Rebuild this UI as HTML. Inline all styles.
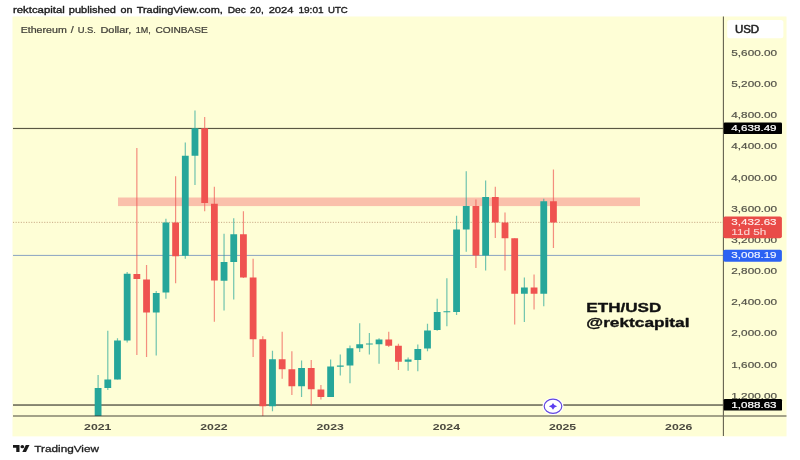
<!DOCTYPE html>
<html lang="en"><head><meta charset="utf-8"><title>ETH/USD chart</title>
<style>html,body{margin:0;padding:0;background:#fff;}body{width:800px;height:460px;overflow:hidden;}svg{display:block;}text{font-family:"Liberation Sans",Arial,sans-serif;}</style></head><body>
<svg width="800" height="460" viewBox="0 0 800 460">
<rect x="0" y="0" width="800" height="460" fill="#ffffff"/>
<rect x="12.5" y="16.5" width="774" height="419.9" fill="#fefed6"/>
<text y="13" font-size="9.2" font-weight="normal" fill="#1c1c1c" stroke="#1c1c1c" stroke-width="0.36" stroke-linejoin="round"><tspan x="13.0" textLength="51.75" lengthAdjust="spacingAndGlyphs">rektcapital</tspan> <tspan x="68.8" textLength="47.10" lengthAdjust="spacingAndGlyphs">published</tspan> <tspan x="120.5" textLength="12.00" lengthAdjust="spacingAndGlyphs">on</tspan> <tspan x="136.7" textLength="86.10" lengthAdjust="spacingAndGlyphs">TradingView.com,</tspan> <tspan x="227.7" textLength="18.20" lengthAdjust="spacingAndGlyphs">Dec</tspan> <tspan x="250.1" textLength="13.65" lengthAdjust="spacingAndGlyphs">20,</tspan> <tspan x="268.65" textLength="24.85" lengthAdjust="spacingAndGlyphs">2024</tspan> <tspan x="298.4" textLength="25.20" lengthAdjust="spacingAndGlyphs">19:01</tspan> <tspan x="328" textLength="19.75" lengthAdjust="spacingAndGlyphs">UTC</tspan></text>
<text y="33" font-size="8.5" font-weight="normal" fill="#403f38" stroke="#403f38" stroke-width="0.22" stroke-linejoin="round"><tspan x="20.7" textLength="46.05" lengthAdjust="spacingAndGlyphs">Ethereum</tspan> <tspan x="70.8" textLength="3.00" lengthAdjust="spacingAndGlyphs">/</tspan> <tspan x="77.7" textLength="18.30" lengthAdjust="spacingAndGlyphs">U.S.</tspan> <tspan x="100.5" textLength="30.90" lengthAdjust="spacingAndGlyphs">Dollar,</tspan> <tspan x="135.8" textLength="15.00" lengthAdjust="spacingAndGlyphs">1M,</tspan> <tspan x="155.45" textLength="52.35" lengthAdjust="spacingAndGlyphs">COINBASE</tspan></text>
<rect x="118" y="197.5" width="522" height="8.6" fill="#fac0ab"/>
<rect x="13" y="127.9" width="711" height="1.15" fill="#5a5843"/>
<rect x="13" y="404.45" width="711" height="1.15" fill="#35342b"/>
<rect x="13" y="254.9" width="711" height="1" fill="#8aa3c2"/>
<line x1="13" y1="222.35" x2="723" y2="222.35" stroke="#c29f7c" stroke-width="0.9" stroke-dasharray="1.1 1.5"/>
<rect x="97.50" y="375" width="1.2" height="41.00" fill="#26a69a" opacity="0.66"/>
<rect x="94.70" y="388" width="6.8" height="28.00" fill="#26a69a"/>
<rect x="107.19" y="330.75" width="1.2" height="59.25" fill="#26a69a" opacity="0.66"/>
<rect x="104.39" y="379.5" width="6.8" height="8.50" fill="#26a69a"/>
<rect x="116.88" y="338.25" width="1.2" height="41.25" fill="#26a69a" opacity="0.66"/>
<rect x="114.08" y="340.5" width="6.8" height="39.00" fill="#26a69a"/>
<rect x="126.56" y="272" width="1.2" height="70.50" fill="#26a69a" opacity="0.66"/>
<rect x="123.76" y="273.75" width="6.8" height="66.75" fill="#26a69a"/>
<rect x="136.25" y="148" width="1.2" height="207.00" fill="#ef5350" opacity="0.66"/>
<rect x="133.45" y="274" width="6.8" height="5.00" fill="#ef5350"/>
<rect x="145.94" y="265" width="1.2" height="92.00" fill="#ef5350" opacity="0.66"/>
<rect x="143.14" y="279.5" width="6.8" height="33.00" fill="#ef5350"/>
<rect x="155.63" y="291" width="1.2" height="64.50" fill="#26a69a" opacity="0.66"/>
<rect x="152.83" y="293" width="6.8" height="19.50" fill="#26a69a"/>
<rect x="165.32" y="218.75" width="1.2" height="80.00" fill="#26a69a" opacity="0.66"/>
<rect x="162.52" y="222.5" width="6.8" height="70.00" fill="#26a69a"/>
<rect x="175.00" y="176.25" width="1.2" height="107.00" fill="#ef5350" opacity="0.66"/>
<rect x="172.20" y="222.5" width="6.8" height="33.75" fill="#ef5350"/>
<rect x="184.69" y="142.5" width="1.2" height="116.25" fill="#26a69a" opacity="0.66"/>
<rect x="181.89" y="155.75" width="6.8" height="100.00" fill="#26a69a"/>
<rect x="194.38" y="110.5" width="1.2" height="74.50" fill="#26a69a" opacity="0.66"/>
<rect x="191.58" y="128.25" width="6.8" height="27.50" fill="#26a69a"/>
<rect x="204.07" y="117" width="1.2" height="94.25" fill="#ef5350" opacity="0.66"/>
<rect x="201.27" y="128.25" width="6.8" height="74.75" fill="#ef5350"/>
<rect x="213.76" y="186.75" width="1.2" height="135.00" fill="#ef5350" opacity="0.66"/>
<rect x="210.96" y="203.75" width="6.8" height="76.75" fill="#ef5350"/>
<rect x="223.44" y="233.75" width="1.2" height="76.75" fill="#26a69a" opacity="0.66"/>
<rect x="220.64" y="262" width="6.8" height="18.75" fill="#26a69a"/>
<rect x="233.13" y="218.25" width="1.2" height="81.25" fill="#26a69a" opacity="0.66"/>
<rect x="230.33" y="234.25" width="6.8" height="27.75" fill="#26a69a"/>
<rect x="242.82" y="211.25" width="1.2" height="66.75" fill="#ef5350" opacity="0.66"/>
<rect x="240.02" y="234.25" width="6.8" height="43.25" fill="#ef5350"/>
<rect x="252.51" y="258.75" width="1.2" height="98.25" fill="#ef5350" opacity="0.66"/>
<rect x="249.71" y="277.5" width="6.8" height="61.75" fill="#ef5350"/>
<rect x="262.20" y="336.25" width="1.2" height="79.75" fill="#ef5350" opacity="0.66"/>
<rect x="259.40" y="339.25" width="6.8" height="67.00" fill="#ef5350"/>
<rect x="271.88" y="350.75" width="1.2" height="60.50" fill="#26a69a" opacity="0.66"/>
<rect x="269.08" y="359.25" width="6.8" height="47.00" fill="#26a69a"/>
<rect x="281.57" y="331.75" width="1.2" height="47.00" fill="#ef5350" opacity="0.66"/>
<rect x="278.77" y="359.25" width="6.8" height="10.00" fill="#ef5350"/>
<rect x="291.26" y="351.25" width="1.2" height="43.75" fill="#ef5350" opacity="0.66"/>
<rect x="288.46" y="369.25" width="6.8" height="17.00" fill="#ef5350"/>
<rect x="300.95" y="360.5" width="1.2" height="36.50" fill="#26a69a" opacity="0.66"/>
<rect x="298.15" y="368" width="6.8" height="18.25" fill="#26a69a"/>
<rect x="310.64" y="360" width="1.2" height="45.50" fill="#ef5350" opacity="0.66"/>
<rect x="307.84" y="368" width="6.8" height="21.25" fill="#ef5350"/>
<rect x="320.32" y="385" width="1.2" height="14.50" fill="#ef5350" opacity="0.66"/>
<rect x="317.52" y="389.5" width="6.8" height="7.50" fill="#ef5350"/>
<rect x="330.01" y="359.5" width="1.2" height="37.50" fill="#26a69a" opacity="0.66"/>
<rect x="327.21" y="366.5" width="6.8" height="30.50" fill="#26a69a"/>
<rect x="339.70" y="354.5" width="1.2" height="21.00" fill="#26a69a" opacity="0.66"/>
<rect x="336.90" y="365.5" width="6.8" height="1.25" fill="#26a69a"/>
<rect x="349.39" y="345.5" width="1.2" height="37.75" fill="#26a69a" opacity="0.66"/>
<rect x="346.59" y="348.25" width="6.8" height="17.25" fill="#26a69a"/>
<rect x="359.08" y="323.25" width="1.2" height="28.75" fill="#26a69a" opacity="0.66"/>
<rect x="356.28" y="344.25" width="6.8" height="4.00" fill="#26a69a"/>
<rect x="368.76" y="333" width="1.2" height="21.50" fill="#26a69a" opacity="0.66"/>
<rect x="365.96" y="343.5" width="6.8" height="1.00" fill="#26a69a"/>
<rect x="378.45" y="338.25" width="1.2" height="25.50" fill="#26a69a" opacity="0.66"/>
<rect x="375.65" y="339.5" width="6.8" height="4.75" fill="#26a69a"/>
<rect x="388.14" y="331.75" width="1.2" height="15.25" fill="#ef5350" opacity="0.66"/>
<rect x="385.34" y="339.5" width="6.8" height="6.25" fill="#ef5350"/>
<rect x="397.83" y="343.75" width="1.2" height="26.25" fill="#ef5350" opacity="0.66"/>
<rect x="395.03" y="345.75" width="6.8" height="16.00" fill="#ef5350"/>
<rect x="407.52" y="357.5" width="1.2" height="13.25" fill="#26a69a" opacity="0.66"/>
<rect x="404.72" y="359.5" width="6.8" height="2.25" fill="#26a69a"/>
<rect x="417.20" y="344.5" width="1.2" height="26.75" fill="#26a69a" opacity="0.66"/>
<rect x="414.40" y="349" width="6.8" height="11.00" fill="#26a69a"/>
<rect x="426.89" y="323.75" width="1.2" height="27.50" fill="#26a69a" opacity="0.66"/>
<rect x="424.09" y="330.5" width="6.8" height="18.00" fill="#26a69a"/>
<rect x="436.58" y="298.75" width="1.2" height="32.00" fill="#26a69a" opacity="0.66"/>
<rect x="433.78" y="312" width="6.8" height="18.00" fill="#26a69a"/>
<rect x="446.27" y="278.25" width="1.2" height="48.00" fill="#26a69a" opacity="0.66"/>
<rect x="443.47" y="311.25" width="6.8" height="1.00" fill="#26a69a"/>
<rect x="455.96" y="215.75" width="1.2" height="99.25" fill="#26a69a" opacity="0.66"/>
<rect x="453.16" y="229.5" width="6.8" height="82.50" fill="#26a69a"/>
<rect x="465.64" y="171.25" width="1.2" height="80.50" fill="#26a69a" opacity="0.66"/>
<rect x="462.84" y="206" width="6.8" height="23.50" fill="#26a69a"/>
<rect x="475.33" y="199.5" width="1.2" height="68.50" fill="#ef5350" opacity="0.66"/>
<rect x="472.53" y="206" width="6.8" height="49.50" fill="#ef5350"/>
<rect x="485.02" y="180.5" width="1.2" height="90.00" fill="#26a69a" opacity="0.66"/>
<rect x="482.22" y="197" width="6.8" height="58.50" fill="#26a69a"/>
<rect x="494.71" y="186.75" width="1.2" height="51.25" fill="#ef5350" opacity="0.66"/>
<rect x="491.91" y="197" width="6.8" height="25.50" fill="#ef5350"/>
<rect x="504.40" y="212.5" width="1.2" height="58.00" fill="#ef5350" opacity="0.66"/>
<rect x="501.60" y="222.5" width="6.8" height="15.75" fill="#ef5350"/>
<rect x="514.08" y="238.25" width="1.2" height="86.25" fill="#ef5350" opacity="0.66"/>
<rect x="511.28" y="238.25" width="6.8" height="55.50" fill="#ef5350"/>
<rect x="523.77" y="277.5" width="1.2" height="44.50" fill="#26a69a" opacity="0.66"/>
<rect x="520.97" y="287.5" width="6.8" height="6.25" fill="#26a69a"/>
<rect x="533.46" y="274.5" width="1.2" height="35.00" fill="#ef5350" opacity="0.66"/>
<rect x="530.66" y="287.5" width="6.8" height="6.25" fill="#ef5350"/>
<rect x="543.15" y="198.75" width="1.2" height="107.50" fill="#26a69a" opacity="0.66"/>
<rect x="540.35" y="201.25" width="6.8" height="92.50" fill="#26a69a"/>
<rect x="552.84" y="169.5" width="1.2" height="78.50" fill="#ef5350" opacity="0.66"/>
<rect x="550.04" y="201.25" width="6.8" height="21.25" fill="#ef5350"/>
<rect x="13" y="415.55" width="773.5" height="0.9" fill="#35342b"/>
<rect x="722.85" y="16.5" width="1.15" height="419.5" fill="#6a6855"/>
<text x="731.3" y="55.79" font-size="8.8" font-weight="normal" fill="#55544a" text-anchor="start" textLength="45.8" lengthAdjust="spacingAndGlyphs" stroke="#55544a" stroke-width="0.2" stroke-linejoin="round">5,600.00</text>
<text x="731.3" y="86.98" font-size="8.8" font-weight="normal" fill="#55544a" text-anchor="start" textLength="45.8" lengthAdjust="spacingAndGlyphs" stroke="#55544a" stroke-width="0.2" stroke-linejoin="round">5,200.00</text>
<text x="731.3" y="118.16" font-size="8.8" font-weight="normal" fill="#55544a" text-anchor="start" textLength="45.8" lengthAdjust="spacingAndGlyphs" stroke="#55544a" stroke-width="0.2" stroke-linejoin="round">4,800.00</text>
<text x="731.3" y="149.35" font-size="8.8" font-weight="normal" fill="#55544a" text-anchor="start" textLength="45.8" lengthAdjust="spacingAndGlyphs" stroke="#55544a" stroke-width="0.2" stroke-linejoin="round">4,400.00</text>
<text x="731.3" y="180.53" font-size="8.8" font-weight="normal" fill="#55544a" text-anchor="start" textLength="45.8" lengthAdjust="spacingAndGlyphs" stroke="#55544a" stroke-width="0.2" stroke-linejoin="round">4,000.00</text>
<text x="731.3" y="211.71" font-size="8.8" font-weight="normal" fill="#55544a" text-anchor="start" textLength="45.8" lengthAdjust="spacingAndGlyphs" stroke="#55544a" stroke-width="0.2" stroke-linejoin="round">3,600.00</text>
<text x="731.3" y="242.90" font-size="8.8" font-weight="normal" fill="#55544a" text-anchor="start" textLength="45.8" lengthAdjust="spacingAndGlyphs" stroke="#55544a" stroke-width="0.2" stroke-linejoin="round">3,200.00</text>
<text x="731.3" y="274.08" font-size="8.8" font-weight="normal" fill="#55544a" text-anchor="start" textLength="45.8" lengthAdjust="spacingAndGlyphs" stroke="#55544a" stroke-width="0.2" stroke-linejoin="round">2,800.00</text>
<text x="731.3" y="305.27" font-size="8.8" font-weight="normal" fill="#55544a" text-anchor="start" textLength="45.8" lengthAdjust="spacingAndGlyphs" stroke="#55544a" stroke-width="0.2" stroke-linejoin="round">2,400.00</text>
<text x="731.3" y="336.45" font-size="8.8" font-weight="normal" fill="#55544a" text-anchor="start" textLength="45.8" lengthAdjust="spacingAndGlyphs" stroke="#55544a" stroke-width="0.2" stroke-linejoin="round">2,000.00</text>
<text x="731.3" y="367.63" font-size="8.8" font-weight="normal" fill="#55544a" text-anchor="start" textLength="45.8" lengthAdjust="spacingAndGlyphs" stroke="#55544a" stroke-width="0.2" stroke-linejoin="round">1,600.00</text>
<text x="731.3" y="398.82" font-size="8.8" font-weight="normal" fill="#55544a" text-anchor="start" textLength="45.8" lengthAdjust="spacingAndGlyphs" stroke="#55544a" stroke-width="0.2" stroke-linejoin="round">1,200.00</text>
<rect x="727.2" y="20.1" width="56.2" height="18.2" rx="2.5" fill="#ffffff"/>
<text x="734.9" y="32.8" font-size="10.4" font-weight="normal" fill="#222" text-anchor="start" textLength="24.3" lengthAdjust="spacingAndGlyphs" stroke="#222" stroke-width="0.5" stroke-linejoin="round">USD</text>
<rect x="723.7" y="122.5" width="58.3" height="11.6" rx="1.2" fill="#000"/>
<text x="731.3" y="131.3" font-size="8.5" font-weight="normal" fill="#fff" text-anchor="start" textLength="45.3" lengthAdjust="spacingAndGlyphs" stroke="#fff" stroke-width="0.2" stroke-linejoin="round">4,638.49</text>
<rect x="723.7" y="399.1" width="58.3" height="11.5" rx="1.2" fill="#000"/>
<text x="731.3" y="407.5" font-size="8.5" font-weight="normal" fill="#fff" text-anchor="start" textLength="45.3" lengthAdjust="spacingAndGlyphs" stroke="#fff" stroke-width="0.2" stroke-linejoin="round">1,088.63</text>
<rect x="723.2" y="216.6" width="58.7" height="21.7" rx="2" fill="#e94b48"/>
<text x="731.3" y="224.7" font-size="8.4" font-weight="normal" fill="#fff0ee" text-anchor="start" textLength="45.3" lengthAdjust="spacingAndGlyphs" stroke="#fff0ee" stroke-width="0.12" stroke-linejoin="round">3,432.63</text>
<text x="731.3" y="235.4" font-size="8.4" font-weight="normal" fill="#fbd3d0" text-anchor="start" textLength="35" lengthAdjust="spacingAndGlyphs" stroke="#fbd3d0" stroke-width="0.1" stroke-linejoin="round">11d 5h</text>
<rect x="723.2" y="249.7" width="58.7" height="12.0" rx="1.8" fill="#2c62f3"/>
<text x="731.3" y="258.1" font-size="8.4" font-weight="normal" fill="#f2f5ff" text-anchor="start" textLength="45.3" lengthAdjust="spacingAndGlyphs" stroke="#f2f5ff" stroke-width="0.15" stroke-linejoin="round">3,008.19</text>
<text x="84.10" y="430.2" font-size="9.1" font-weight="bold" fill="#4b4a40" text-anchor="start" textLength="27.3" lengthAdjust="spacingAndGlyphs">2021</text>
<text x="200.30" y="430.2" font-size="9.1" font-weight="bold" fill="#4b4a40" text-anchor="start" textLength="27.3" lengthAdjust="spacingAndGlyphs">2022</text>
<text x="316.50" y="430.2" font-size="9.1" font-weight="bold" fill="#4b4a40" text-anchor="start" textLength="27.3" lengthAdjust="spacingAndGlyphs">2023</text>
<text x="432.70" y="430.2" font-size="9.1" font-weight="bold" fill="#4b4a40" text-anchor="start" textLength="27.3" lengthAdjust="spacingAndGlyphs">2024</text>
<text x="548.90" y="430.2" font-size="9.1" font-weight="bold" fill="#4b4a40" text-anchor="start" textLength="27.3" lengthAdjust="spacingAndGlyphs">2025</text>
<text x="665.10" y="430.2" font-size="9.1" font-weight="bold" fill="#4b4a40" text-anchor="start" textLength="27.3" lengthAdjust="spacingAndGlyphs">2026</text>
<ellipse cx="553" cy="406.3" rx="10.6" ry="8.8" fill="#ffffff"/>
<ellipse cx="553" cy="406.3" rx="8.8" ry="7.1" fill="#ffffff" stroke="#6247e0" stroke-width="1.2"/>
<path d="M553 402.9 Q553.9 405.6 557.2 406.3 Q553.9 407 553 409.7 Q552.1 407 548.8 406.3 Q552.1 405.6 553 402.9Z" fill="#5b3df0"/>
<text x="586.3" y="312.2" font-size="12.9" font-weight="bold" fill="#111" text-anchor="start" textLength="75" lengthAdjust="spacingAndGlyphs" stroke="#111" stroke-width="0.35" stroke-linejoin="round">ETH/USD</text>
<text x="586.3" y="326.75" font-size="12.9" font-weight="bold" fill="#111" text-anchor="start" textLength="103.2" lengthAdjust="spacingAndGlyphs" stroke="#111" stroke-width="0.35" stroke-linejoin="round">@rektcapital</text>
<g transform="translate(13,445.1) scale(0.4653,0.385)" fill="#1a1a1a"><path d="M14 18H7V7H0V0h14z"/><circle cx="20" cy="4" r="4"/><path d="M28 18h-8l7.5-18h8z"/></g>
<text x="34.3" y="451.9" font-size="9.2" font-weight="normal" fill="#1e1e1e" text-anchor="start" textLength="64.7" lengthAdjust="spacingAndGlyphs" stroke="#1e1e1e" stroke-width="0.3" stroke-linejoin="round">TradingView</text>
</svg></body></html>
